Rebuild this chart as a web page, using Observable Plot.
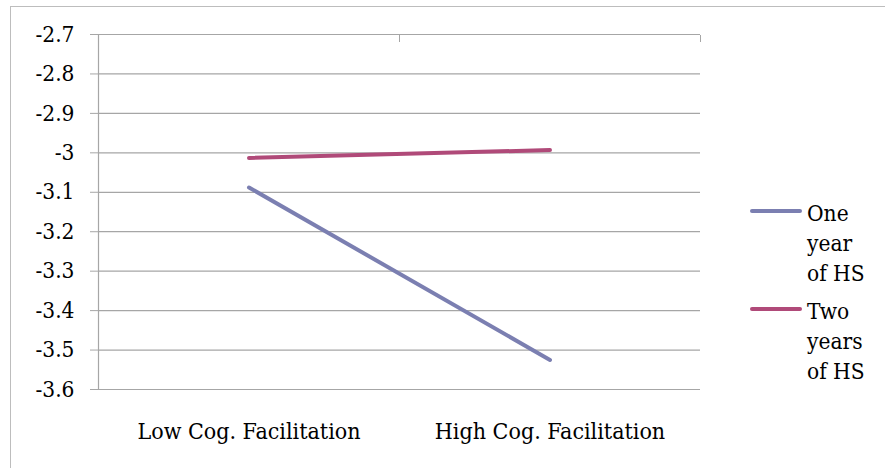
<!DOCTYPE html>
<html><head><meta charset="utf-8">
<script src="https://cdn.jsdelivr.net/npm/d3@7"></script>
<script src="https://cdn.jsdelivr.net/npm/@observablehq/plot@0.6"></script>
<style>
body{margin:0;background:#fff;}
#wrap{position:relative;width:885px;height:468px;overflow:hidden;background:#fff;}
#frame{position:absolute;left:10px;top:6px;width:900px;height:500px;border:1.5px solid #bdbdbd;box-sizing:border-box;}
#chart{position:absolute;left:0;top:0;}
#legend{position:absolute;left:750px;top:198px;font-family:"DejaVu Serif Condensed","DejaVu Serif",serif;font-size:22.5px;color:#000;}
.item{display:flex;align-items:flex-start;margin-bottom:8px;}
.sw{width:52px;height:4px;border-radius:2px;margin-top:11px;margin-right:5px;}
.lab{width:66px;line-height:30px;}
</style></head>
<body><div id="wrap"><div id="frame"></div><div id="chart"></div><div id="legend"></div></div>
<script>
const categories = ["Low Cog. Facilitation", "High Cog. Facilitation"];
const seriesNames = ["One year of HS", "Two years of HS"];
const oneYear = [-3.088, -3.525];
const twoYears = [-3.013, -2.993];
const yTicks = [-3.6, -3.5, -3.4, -3.3, -3.2, -3.1, -3, -2.9, -2.8, -2.7];
const colors = ["#7b7fb1", "#b04a79"];

const seriesValues = [oneYear, twoYears];
const rows = [];
seriesNames.forEach((s, si) => categories.forEach((c, ci) => rows.push({series: s, cat: c, pos: ci + 0.5, value: seriesValues[si][ci]})));
const catCenters = categories.map((c, i) => i + 0.5);
const catBounds = d3.range(categories.length + 1);
const font = '"DejaVu Serif Condensed","DejaVu Serif",serif';
const gridColor = "#a6a6a6";

const chart = Plot.plot({
  width: 885, height: 468,
  marginLeft: 98, marginRight: 185, marginTop: 34, marginBottom: 79,
  style: {fontFamily: font, background: "transparent", color: "#000"},
  x: {domain: [0, categories.length]},
  y: {domain: [d3.min(yTicks), d3.max(yTicks)]},
  color: {domain: seriesNames, range: colors},
  marks: [
    Plot.gridY(yTicks, {stroke: gridColor, strokeOpacity: 1, strokeWidth: 1.2}),
    Plot.axisY(yTicks, {tickSize: 8, tickPadding: 16, stroke: gridColor, strokeOpacity: 1, fontSize: 22.5, tickFormat: d => String(d), label: null}),
    Plot.ruleX([0], {stroke: gridColor, strokeWidth: 1.2}),
    Plot.axisX(catCenters, {anchor: "bottom", tickSize: 0, tickPadding: 33, fontSize: 23, tickFormat: d => categories[Math.floor(d)], label: null}),
    Plot.axisX(catBounds, {anchor: "top", tickSize: -7, stroke: gridColor, strokeOpacity: 1, tickFormat: () => "", label: null}),
    Plot.line(rows, {x: "pos", y: "value", z: "series", stroke: "series", strokeWidth: 4, strokeLinecap: "round"})
  ]
});
document.getElementById("chart").appendChild(chart);

const legend = document.getElementById("legend");
seriesNames.forEach((s, i) => {
  const it = document.createElement("div"); it.className = "item";
  const sw = document.createElement("div"); sw.className = "sw"; sw.style.background = colors[i];
  const lab = document.createElement("div"); lab.className = "lab"; lab.textContent = s;
  it.appendChild(sw); it.appendChild(lab); legend.appendChild(it);
});
</script></body></html>
